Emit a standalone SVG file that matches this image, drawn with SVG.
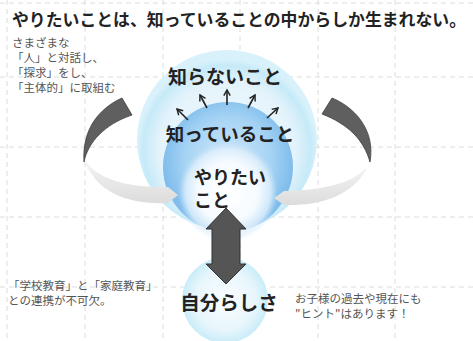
<svg xmlns="http://www.w3.org/2000/svg" width="473" height="341" viewBox="0 0 473 341">
<defs>
<style>
.grid line{stroke:#dcdcdc;stroke-width:1;stroke-dasharray:5 4}
.t{font-family:"Noto Sans CJK JP","Noto Sans CJK SC",sans-serif;fill:#222}
.b{font-weight:bold}
.s{font-family:"Noto Sans CJK JP","Noto Sans CJK SC",sans-serif;fill:#555;font-size:11.5px}
.dark{fill:#5f5f5f;stroke:#3f3f3f;stroke-width:0.8}
.light{fill:url(#lg)}
.sa{fill:none;stroke:#222;stroke-width:1.6}
</style>
<radialGradient id="outer" cx="0.5" cy="0.55" r="0.5">
<stop offset="0" stop-color="#f2f9fd"/>
<stop offset="0.75" stop-color="#e4f3fb"/>
<stop offset="0.93" stop-color="#c6eaf8"/>
<stop offset="1" stop-color="#d8f1fb"/>
</radialGradient>
<radialGradient id="inner" cx="0.5" cy="0.45" r="0.5">
<stop offset="0" stop-color="#cfe7fa"/>
<stop offset="0.65" stop-color="#a7d4f4"/>
<stop offset="1" stop-color="#80bdec"/>
</radialGradient>
<radialGradient id="glow" cx="0.5" cy="0.5" r="0.5">
<stop offset="0" stop-color="#ffffff"/>
<stop offset="0.6" stop-color="#f6fbff"/>
<stop offset="0.85" stop-color="#e2f1fc" stop-opacity="0.8"/>
<stop offset="1" stop-color="#cfe7fa" stop-opacity="0"/>
</radialGradient>
<radialGradient id="small" cx="0.5" cy="0.5" r="0.5">
<stop offset="0" stop-color="#fafdff"/>
<stop offset="0.7" stop-color="#e8f6fc"/>
<stop offset="1" stop-color="#c9ecf9"/>
</radialGradient>
<linearGradient id="lg" x1="0" y1="0" x2="0" y2="1">
<stop offset="0" stop-color="#f3f3f3"/>
<stop offset="1" stop-color="#dcdcdc"/>
</linearGradient>
<marker id="ah" viewBox="0 0 10 10" refX="8" refY="5" markerWidth="5" markerHeight="5" orient="auto">
<path d="M1,1 L8,5 L1,9" fill="none" stroke="#222" stroke-width="1.8"/>
</marker>
</defs>
<rect width="473" height="341" fill="#ffffff"/>
<g id="grid" class="grid">
<line x1="7" y1="0" x2="7" y2="341"/>
<line x1="85" y1="0" x2="85" y2="341"/>
<line x1="163" y1="0" x2="163" y2="341"/>
<line x1="240" y1="0" x2="240" y2="341"/>
<line x1="318" y1="0" x2="318" y2="341"/>
<line x1="395" y1="0" x2="395" y2="341"/>
<line x1="0" y1="3" x2="473" y2="3"/>
<line x1="0" y1="77" x2="473" y2="77"/>
<line x1="0" y1="147" x2="473" y2="147"/>
<line x1="0" y1="217" x2="473" y2="217"/>
<line x1="0" y1="287" x2="473" y2="287"/>
</g>
<g id="title">
<text class="t b" x="12" y="26" font-size="16.5" textLength="454" lengthAdjust="spacingAndGlyphs">やりたいことは、知っていることの中からしか生まれない。</text>
</g>
<g id="note-left-top">
<text class="s" x="12" y="47">さまざまな</text>
<text class="s" x="12" y="62">「人」と対話し、</text>
<text class="s" x="12" y="77">「探求」をし、</text>
<text class="s" x="12" y="92">「主体的」に取組む</text>
</g>
<g id="circle-unknown">
<circle cx="227" cy="140" r="90" fill="url(#outer)"/>
</g>
<g id="circle-known">
<circle cx="228" cy="167" r="65" fill="url(#inner)"/>
</g>
<g id="connectors">
<path class="dark" d="M122,98 C100,108 82,128 84,162 C88,142 105,124 132,115 Z"/>
<path class="light" d="M86,162 C98,178 125,188 168,187 L178,195 L168,203 C128,205 98,192 86,164 Z"/>
<path class="dark" d="M332,98 C352,106 376,128 370,162 C364,140 348,124 322,114 Z"/>
<path class="light" d="M366,168 C350,185 320,190 284,191 L274,198 L284,205 C322,206 352,195 366,170 Z"/>
</g>
<g id="circle-want">
<circle cx="228" cy="192" r="50" fill="url(#glow)"/>
</g>
<g id="circle-self">
<circle cx="225" cy="300" r="43" fill="url(#small)"/>
</g>
<g id="labels">
<text class="t b" x="225" y="84" font-size="19" text-anchor="middle">知らないこと</text>
<text class="t b" x="230" y="141" font-size="18.5" text-anchor="middle">知っていること</text>
<text class="t b" x="194" y="184" font-size="18">やりたい</text>
<text class="t b" x="194" y="207" font-size="18">こと</text>
<text class="t b" x="229" y="310" font-size="19.5" text-anchor="middle">自分らしさ</text>
</g>
<g id="small-arrows">
<line class="sa" x1="188" y1="120" x2="177" y2="109" marker-end="url(#ah)"/>
<line class="sa" x1="207" y1="108" x2="200" y2="95" marker-end="url(#ah)"/>
<line class="sa" x1="227" y1="105" x2="227" y2="90" marker-end="url(#ah)"/>
<line class="sa" x1="248" y1="108" x2="255" y2="95" marker-end="url(#ah)"/>
<line class="sa" x1="267" y1="118" x2="278" y2="108" marker-end="url(#ah)"/>
</g>
<g id="double-arrow">
<path d="M226,208 L246,229 L240,229 L240,264 L246,264 L226,284 L206,264 L212,264 L212,229 L206,229 Z" fill="#555555" stroke="#333333" stroke-width="1"/>
</g>
<g id="note-left-bottom">
<text class="s" x="8" y="290">「学校教育」と「家庭教育」</text>
<text class="s" x="8" y="305">との連携が不可欠。</text>
</g>
<g id="note-right">
<text class="s" x="295" y="303">お子様の過去や現在にも</text>
<text class="s" x="295" y="318">"ヒント"はあります！</text>
</g>
</svg>
